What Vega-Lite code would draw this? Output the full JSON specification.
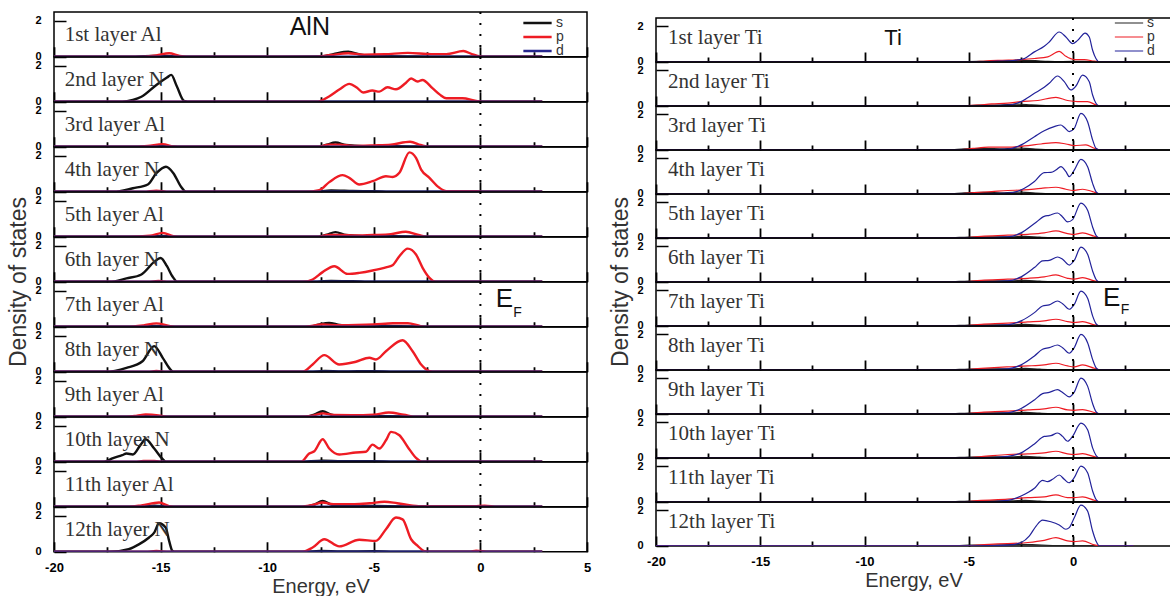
{
"$schema": "https://vega.github.io/schema/vega-lite/v6.json",
"padding": {"left": 7, "top": 10, "right": 0, "bottom": 0},
"background": "white",
"config": {"view": {"stroke": "#000", "strokeWidth": 1.5}, "font": "Liberation Sans"},
"datasets": {
"alnLab": [{"L":1,"name":"1st layer Al"},{"L":2,"name":"2nd layer N"},{"L":3,"name":"3rd layer Al"},{"L":4,"name":"4th layer N"},{"L":5,"name":"5th layer Al"},{"L":6,"name":"6th layer N"},{"L":7,"name":"7th layer Al"},{"L":8,"name":"8th layer N"},{"L":9,"name":"9th layer Al"},{"L":10,"name":"10th layer N"},{"L":11,"name":"11th layer Al"},{"L":12,"name":"12th layer N"}],
"tiLab": [{"L":1,"name":"1st layer Ti"},{"L":2,"name":"2nd layer Ti"},{"L":3,"name":"3rd layer Ti"},{"L":4,"name":"4th layer Ti"},{"L":5,"name":"5th layer Ti"},{"L":6,"name":"6th layer Ti"},{"L":7,"name":"7th layer Ti"},{"L":8,"name":"8th layer Ti"},{"L":9,"name":"9th layer Ti"},{"L":10,"name":"10th layer Ti"},{"L":11,"name":"11th layer Ti"},{"L":12,"name":"12th layer Ti"}],
"aln": [
{"L":1,"c":"s","E":-20,"v":0},{"L":1,"c":"s","E":-16.5,"v":0},{"L":1,"c":"s","E":-15,"v":0.06},{"L":1,"c":"s","E":-14,"v":0},{"L":1,"c":"s","E":-7.5,"v":0.02},{"L":1,"c":"s","E":-6.9,"v":0.15},{"L":1,"c":"s","E":-6.2,"v":0.28},{"L":1,"c":"s","E":-5.6,"v":0.12},{"L":1,"c":"s","E":-4.8,"v":0.05},{"L":1,"c":"s","E":-3,"v":0.02},{"L":1,"c":"s","E":-1,"v":0},{"L":1,"c":"s","E":2.9,"v":0},
{"L":1,"c":"p","E":-20,"v":0},{"L":1,"c":"p","E":-16,"v":0},{"L":1,"c":"p","E":-15.2,"v":0.08},{"L":1,"c":"p","E":-14.6,"v":0.2},{"L":1,"c":"p","E":-14.1,"v":0.05},{"L":1,"c":"p","E":-13.5,"v":0},{"L":1,"c":"p","E":-7.7,"v":0},{"L":1,"c":"p","E":-7,"v":0.1},{"L":1,"c":"p","E":-6.2,"v":0.2},{"L":1,"c":"p","E":-5.5,"v":0.12},{"L":1,"c":"p","E":-4.5,"v":0.14},{"L":1,"c":"p","E":-3.4,"v":0.22},{"L":1,"c":"p","E":-2.3,"v":0.15},{"L":1,"c":"p","E":-1.6,"v":0.15},{"L":1,"c":"p","E":-0.8,"v":0.32},{"L":1,"c":"p","E":-0.4,"v":0.15},{"L":1,"c":"p","E":0,"v":0.02},{"L":1,"c":"p","E":0.3,"v":0},{"L":1,"c":"p","E":2.9,"v":0},
{"L":1,"c":"d","E":-20,"v":0},{"L":1,"c":"d","E":2.9,"v":0},
{"L":2,"c":"s","E":-20,"v":0},{"L":2,"c":"s","E":-16.8,"v":0},{"L":2,"c":"s","E":-16.3,"v":0.1},{"L":2,"c":"s","E":-15.9,"v":0.28},{"L":2,"c":"s","E":-15.2,"v":0.94},{"L":2,"c":"s","E":-14.7,"v":1.35},{"L":2,"c":"s","E":-14.5,"v":1.5},{"L":2,"c":"s","E":-14.25,"v":0.9},{"L":2,"c":"s","E":-13.9,"v":0.05},{"L":2,"c":"s","E":-13.6,"v":0},{"L":2,"c":"s","E":2.9,"v":0},
{"L":2,"c":"p","E":-20,"v":0},{"L":2,"c":"p","E":-7.7,"v":0},{"L":2,"c":"p","E":-7.1,"v":0.3},{"L":2,"c":"p","E":-6.6,"v":0.7},{"L":2,"c":"p","E":-6.15,"v":1.0},{"L":2,"c":"p","E":-5.8,"v":0.8},{"L":2,"c":"p","E":-5.5,"v":0.52},{"L":2,"c":"p","E":-5.07,"v":0.63},{"L":2,"c":"p","E":-4.74,"v":0.57},{"L":2,"c":"p","E":-4.36,"v":0.81},{"L":2,"c":"p","E":-3.96,"v":0.7},{"L":2,"c":"p","E":-3.5,"v":1.05},{"L":2,"c":"p","E":-3.25,"v":1.3},{"L":2,"c":"p","E":-2.95,"v":1.13},{"L":2,"c":"p","E":-2.72,"v":1.22},{"L":2,"c":"p","E":-2.25,"v":0.76},{"L":2,"c":"p","E":-1.9,"v":0.4},{"L":2,"c":"p","E":-1.6,"v":0.2},{"L":2,"c":"p","E":-0.84,"v":0.2},{"L":2,"c":"p","E":-0.2,"v":0.05},{"L":2,"c":"p","E":0.2,"v":0},{"L":2,"c":"p","E":2.9,"v":0},
{"L":2,"c":"d","E":-20,"v":0},{"L":2,"c":"d","E":2.9,"v":0},
{"L":3,"c":"s","E":-20,"v":0},{"L":3,"c":"s","E":-16.5,"v":0},{"L":3,"c":"s","E":-15,"v":0.04},{"L":3,"c":"s","E":-14,"v":0},{"L":3,"c":"s","E":-7.6,"v":0},{"L":3,"c":"s","E":-7.2,"v":0.12},{"L":3,"c":"s","E":-6.8,"v":0.24},{"L":3,"c":"s","E":-6.3,"v":0.1},{"L":3,"c":"s","E":-5.5,"v":0.04},{"L":3,"c":"s","E":-4,"v":0.04},{"L":3,"c":"s","E":-3,"v":0.02},{"L":3,"c":"s","E":-2.5,"v":0},{"L":3,"c":"s","E":2.9,"v":0},
{"L":3,"c":"p","E":-20,"v":0},{"L":3,"c":"p","E":-16.5,"v":0},{"L":3,"c":"p","E":-15.6,"v":0.05},{"L":3,"c":"p","E":-14.9,"v":0.15},{"L":3,"c":"p","E":-14.4,"v":0.02},{"L":3,"c":"p","E":-14,"v":0},{"L":3,"c":"p","E":-7.6,"v":0},{"L":3,"c":"p","E":-7.1,"v":0.12},{"L":3,"c":"p","E":-6.6,"v":0.12},{"L":3,"c":"p","E":-6,"v":0.05},{"L":3,"c":"p","E":-5,"v":0.08},{"L":3,"c":"p","E":-4.2,"v":0.12},{"L":3,"c":"p","E":-3.3,"v":0.28},{"L":3,"c":"p","E":-2.8,"v":0.1},{"L":3,"c":"p","E":-2.4,"v":0},{"L":3,"c":"p","E":2.9,"v":0},
{"L":3,"c":"d","E":-20,"v":0},{"L":3,"c":"d","E":2.9,"v":0},
{"L":4,"c":"s","E":-20,"v":0},{"L":4,"c":"s","E":-17.2,"v":0},{"L":4,"c":"s","E":-16.3,"v":0.2},{"L":4,"c":"s","E":-15.6,"v":0.41},{"L":4,"c":"s","E":-15.2,"v":1.04},{"L":4,"c":"s","E":-14.75,"v":1.4},{"L":4,"c":"s","E":-14.4,"v":1.04},{"L":4,"c":"s","E":-14.05,"v":0.3},{"L":4,"c":"s","E":-13.8,"v":0},{"L":4,"c":"s","E":-7.8,"v":0},{"L":4,"c":"s","E":-7,"v":0.08},{"L":4,"c":"s","E":-6,"v":0.05},{"L":4,"c":"s","E":-5,"v":0.03},{"L":4,"c":"s","E":-4,"v":0},{"L":4,"c":"s","E":2.9,"v":0},
{"L":4,"c":"p","E":-20,"v":0},{"L":4,"c":"p","E":-15.8,"v":0},{"L":4,"c":"p","E":-15.2,"v":0.06},{"L":4,"c":"p","E":-14.6,"v":0},{"L":4,"c":"p","E":-8.2,"v":0},{"L":4,"c":"p","E":-7.56,"v":0.09},{"L":4,"c":"p","E":-7.09,"v":0.54},{"L":4,"c":"p","E":-6.46,"v":0.93},{"L":4,"c":"p","E":-6.15,"v":0.78},{"L":4,"c":"p","E":-5.68,"v":0.41},{"L":4,"c":"p","E":-5.06,"v":0.59},{"L":4,"c":"p","E":-4.43,"v":0.87},{"L":4,"c":"p","E":-4.12,"v":0.83},{"L":4,"c":"p","E":-3.8,"v":1.06},{"L":4,"c":"p","E":-3.33,"v":2.2},{"L":4,"c":"p","E":-3.02,"v":1.89},{"L":4,"c":"p","E":-2.78,"v":1.24},{"L":4,"c":"p","E":-2.39,"v":0.78},{"L":4,"c":"p","E":-1.92,"v":0.22},{"L":4,"c":"p","E":-1.6,"v":0.04},{"L":4,"c":"p","E":-0.2,"v":0.04},{"L":4,"c":"p","E":0.1,"v":0},{"L":4,"c":"p","E":2.9,"v":0},
{"L":4,"c":"d","E":-20,"v":0},{"L":4,"c":"d","E":2.9,"v":0},
{"L":5,"c":"s","E":-20,"v":0},{"L":5,"c":"s","E":-16.5,"v":0},{"L":5,"c":"s","E":-15,"v":0.05},{"L":5,"c":"s","E":-14,"v":0},{"L":5,"c":"s","E":-7.6,"v":0},{"L":5,"c":"s","E":-7.2,"v":0.12},{"L":5,"c":"s","E":-6.8,"v":0.26},{"L":5,"c":"s","E":-6.3,"v":0.1},{"L":5,"c":"s","E":-5.5,"v":0.04},{"L":5,"c":"s","E":-4,"v":0.04},{"L":5,"c":"s","E":-3,"v":0.02},{"L":5,"c":"s","E":-2.5,"v":0},{"L":5,"c":"s","E":2.9,"v":0},
{"L":5,"c":"p","E":-20,"v":0},{"L":5,"c":"p","E":-16.5,"v":0},{"L":5,"c":"p","E":-15.5,"v":0.06},{"L":5,"c":"p","E":-14.9,"v":0.22},{"L":5,"c":"p","E":-14.4,"v":0.04},{"L":5,"c":"p","E":-14,"v":0},{"L":5,"c":"p","E":-7.7,"v":0},{"L":5,"c":"p","E":-7.1,"v":0.1},{"L":5,"c":"p","E":-6.5,"v":0.1},{"L":5,"c":"p","E":-5.9,"v":0.07},{"L":5,"c":"p","E":-5,"v":0.1},{"L":5,"c":"p","E":-4.2,"v":0.15},{"L":5,"c":"p","E":-3.5,"v":0.28},{"L":5,"c":"p","E":-2.9,"v":0.1},{"L":5,"c":"p","E":-2.5,"v":0},{"L":5,"c":"p","E":2.9,"v":0},
{"L":5,"c":"d","E":-20,"v":0},{"L":5,"c":"d","E":2.9,"v":0},
{"L":6,"c":"s","E":-20,"v":0},{"L":6,"c":"s","E":-17.4,"v":0},{"L":6,"c":"s","E":-16.6,"v":0.19},{"L":6,"c":"s","E":-15.9,"v":0.41},{"L":6,"c":"s","E":-15.3,"v":1.11},{"L":6,"c":"s","E":-15,"v":1.33},{"L":6,"c":"s","E":-14.7,"v":0.87},{"L":6,"c":"s","E":-14.45,"v":0.31},{"L":6,"c":"s","E":-14.2,"v":0},{"L":6,"c":"s","E":-8,"v":0},{"L":6,"c":"s","E":-7,"v":0.05},{"L":6,"c":"s","E":-6,"v":0.03},{"L":6,"c":"s","E":-5,"v":0},{"L":6,"c":"s","E":2.9,"v":0},
{"L":6,"c":"p","E":-20,"v":0},{"L":6,"c":"p","E":-15.6,"v":0},{"L":6,"c":"p","E":-15.1,"v":0.05},{"L":6,"c":"p","E":-14.6,"v":0},{"L":6,"c":"p","E":-8.34,"v":0},{"L":6,"c":"p","E":-7.87,"v":0.13},{"L":6,"c":"p","E":-7.4,"v":0.54},{"L":6,"c":"p","E":-6.85,"v":0.87},{"L":6,"c":"p","E":-6.23,"v":0.44},{"L":6,"c":"p","E":-5.68,"v":0.5},{"L":6,"c":"p","E":-5.06,"v":0.63},{"L":6,"c":"p","E":-4.43,"v":0.81},{"L":6,"c":"p","E":-4.12,"v":0.93},{"L":6,"c":"p","E":-3.8,"v":1.43},{"L":6,"c":"p","E":-3.41,"v":1.85},{"L":6,"c":"p","E":-3.02,"v":1.52},{"L":6,"c":"p","E":-2.71,"v":0.78},{"L":6,"c":"p","E":-2.39,"v":0.22},{"L":6,"c":"p","E":-2.1,"v":0},{"L":6,"c":"p","E":2.9,"v":0},
{"L":6,"c":"d","E":-20,"v":0},{"L":6,"c":"d","E":2.9,"v":0},
{"L":7,"c":"s","E":-20,"v":0},{"L":7,"c":"s","E":-16.5,"v":0},{"L":7,"c":"s","E":-15.3,"v":0.05},{"L":7,"c":"s","E":-14.3,"v":0},{"L":7,"c":"s","E":-8,"v":0},{"L":7,"c":"s","E":-7.6,"v":0.12},{"L":7,"c":"s","E":-7.1,"v":0.22},{"L":7,"c":"s","E":-6.6,"v":0.1},{"L":7,"c":"s","E":-6,"v":0.05},{"L":7,"c":"s","E":-4.5,"v":0.05},{"L":7,"c":"s","E":-3,"v":0.02},{"L":7,"c":"s","E":-2.5,"v":0},{"L":7,"c":"s","E":2.9,"v":0},
{"L":7,"c":"p","E":-20,"v":0},{"L":7,"c":"p","E":-16.6,"v":0},{"L":7,"c":"p","E":-15.8,"v":0.08},{"L":7,"c":"p","E":-15.2,"v":0.19},{"L":7,"c":"p","E":-14.6,"v":0.05},{"L":7,"c":"p","E":-14.2,"v":0},{"L":7,"c":"p","E":-8.3,"v":0},{"L":7,"c":"p","E":-7.4,"v":0.13},{"L":7,"c":"p","E":-6.6,"v":0.09},{"L":7,"c":"p","E":-5.8,"v":0.1},{"L":7,"c":"p","E":-5,"v":0.13},{"L":7,"c":"p","E":-4.1,"v":0.2},{"L":7,"c":"p","E":-3.4,"v":0.2},{"L":7,"c":"p","E":-2.8,"v":0.04},{"L":7,"c":"p","E":-2.4,"v":0},{"L":7,"c":"p","E":2.9,"v":0},
{"L":7,"c":"d","E":-20,"v":0},{"L":7,"c":"d","E":2.9,"v":0},
{"L":8,"c":"s","E":-20,"v":0},{"L":8,"c":"s","E":-17.6,"v":0},{"L":8,"c":"s","E":-16.6,"v":0.22},{"L":8,"c":"s","E":-15.85,"v":0.59},{"L":8,"c":"s","E":-15.3,"v":1.43},{"L":8,"c":"s","E":-14.9,"v":0.78},{"L":8,"c":"s","E":-14.6,"v":0.22},{"L":8,"c":"s","E":-14.4,"v":0},{"L":8,"c":"s","E":-8,"v":0},{"L":8,"c":"s","E":-7.3,"v":0.05},{"L":8,"c":"s","E":-6.5,"v":0.02},{"L":8,"c":"s","E":-5,"v":0.04},{"L":8,"c":"s","E":-4,"v":0},{"L":8,"c":"s","E":2.9,"v":0},
{"L":8,"c":"p","E":-20,"v":0},{"L":8,"c":"p","E":-15.6,"v":0},{"L":8,"c":"p","E":-15.2,"v":0.05},{"L":8,"c":"p","E":-14.7,"v":0},{"L":8,"c":"p","E":-8.34,"v":0},{"L":8,"c":"p","E":-7.87,"v":0.41},{"L":8,"c":"p","E":-7.32,"v":0.93},{"L":8,"c":"p","E":-6.62,"v":0.41},{"L":8,"c":"p","E":-5.84,"v":0.56},{"L":8,"c":"p","E":-5.21,"v":0.78},{"L":8,"c":"p","E":-4.9,"v":0.69},{"L":8,"c":"p","E":-4.43,"v":1.15},{"L":8,"c":"p","E":-3.65,"v":1.76},{"L":8,"c":"p","E":-3.18,"v":1.15},{"L":8,"c":"p","E":-2.78,"v":0.41},{"L":8,"c":"p","E":-2.39,"v":0.04},{"L":8,"c":"p","E":-2.1,"v":0},{"L":8,"c":"p","E":2.9,"v":0},
{"L":8,"c":"d","E":-20,"v":0},{"L":8,"c":"d","E":2.9,"v":0},
{"L":9,"c":"s","E":-20,"v":0},{"L":9,"c":"s","E":-16.5,"v":0},{"L":9,"c":"s","E":-15.5,"v":0.05},{"L":9,"c":"s","E":-14.5,"v":0},{"L":9,"c":"s","E":-8.2,"v":0},{"L":9,"c":"s","E":-7.8,"v":0.12},{"L":9,"c":"s","E":-7.4,"v":0.31},{"L":9,"c":"s","E":-7,"v":0.12},{"L":9,"c":"s","E":-6.5,"v":0.04},{"L":9,"c":"s","E":-5,"v":0.05},{"L":9,"c":"s","E":-3.5,"v":0.02},{"L":9,"c":"s","E":-3,"v":0},{"L":9,"c":"s","E":2.9,"v":0},
{"L":9,"c":"p","E":-20,"v":0},{"L":9,"c":"p","E":-16.6,"v":0},{"L":9,"c":"p","E":-16.1,"v":0.06},{"L":9,"c":"p","E":-15.7,"v":0.13},{"L":9,"c":"p","E":-15.1,"v":0.08},{"L":9,"c":"p","E":-14.7,"v":0},{"L":9,"c":"p","E":-8.5,"v":0},{"L":9,"c":"p","E":-7.8,"v":0.08},{"L":9,"c":"p","E":-7.4,"v":0.19},{"L":9,"c":"p","E":-6.9,"v":0.1},{"L":9,"c":"p","E":-6,"v":0.09},{"L":9,"c":"p","E":-5,"v":0.12},{"L":9,"c":"p","E":-4.3,"v":0.24},{"L":9,"c":"p","E":-3.6,"v":0.12},{"L":9,"c":"p","E":-3,"v":0},{"L":9,"c":"p","E":2.9,"v":0},
{"L":9,"c":"d","E":-20,"v":0},{"L":9,"c":"d","E":2.9,"v":0},
{"L":10,"c":"s","E":-20,"v":0},{"L":10,"c":"s","E":-17.65,"v":0},{"L":10,"c":"s","E":-17.26,"v":0.19},{"L":10,"c":"s","E":-16.8,"v":0.37},{"L":10,"c":"s","E":-16.6,"v":0.46},{"L":10,"c":"s","E":-16.3,"v":0.41},{"L":10,"c":"s","E":-15.95,"v":0.93},{"L":10,"c":"s","E":-15.7,"v":1.26},{"L":10,"c":"s","E":-15.3,"v":0.74},{"L":10,"c":"s","E":-14.9,"v":0.15},{"L":10,"c":"s","E":-14.75,"v":0},{"L":10,"c":"s","E":-8.5,"v":0},{"L":10,"c":"s","E":-7.4,"v":0.06},{"L":10,"c":"s","E":-6.5,"v":0.03},{"L":10,"c":"s","E":-5,"v":0.04},{"L":10,"c":"s","E":-4,"v":0},{"L":10,"c":"s","E":2.9,"v":0},
{"L":10,"c":"p","E":-20,"v":0},{"L":10,"c":"p","E":-16.2,"v":0},{"L":10,"c":"p","E":-15.8,"v":0.05},{"L":10,"c":"p","E":-15.3,"v":0.05},{"L":10,"c":"p","E":-14.8,"v":0},{"L":10,"c":"p","E":-8.42,"v":0},{"L":10,"c":"p","E":-8.03,"v":0.46},{"L":10,"c":"p","E":-7.79,"v":0.59},{"L":10,"c":"p","E":-7.4,"v":1.26},{"L":10,"c":"p","E":-7.09,"v":0.74},{"L":10,"c":"p","E":-6.62,"v":0.41},{"L":10,"c":"p","E":-5.84,"v":0.52},{"L":10,"c":"p","E":-5.37,"v":0.56},{"L":10,"c":"p","E":-5.06,"v":0.96},{"L":10,"c":"p","E":-4.74,"v":0.74},{"L":10,"c":"p","E":-4.43,"v":1.2},{"L":10,"c":"p","E":-4.19,"v":1.67},{"L":10,"c":"p","E":-3.8,"v":1.48},{"L":10,"c":"p","E":-3.41,"v":0.83},{"L":10,"c":"p","E":-3.02,"v":0.22},{"L":10,"c":"p","E":-2.71,"v":0},{"L":10,"c":"p","E":2.9,"v":0},
{"L":10,"c":"d","E":-20,"v":0},{"L":10,"c":"d","E":2.9,"v":0},
{"L":11,"c":"s","E":-20,"v":0},{"L":11,"c":"s","E":-16.5,"v":0},{"L":11,"c":"s","E":-15.3,"v":0.06},{"L":11,"c":"s","E":-14.5,"v":0},{"L":11,"c":"s","E":-8.3,"v":0},{"L":11,"c":"s","E":-7.8,"v":0.12},{"L":11,"c":"s","E":-7.4,"v":0.33},{"L":11,"c":"s","E":-7,"v":0.12},{"L":11,"c":"s","E":-6.5,"v":0.04},{"L":11,"c":"s","E":-5,"v":0.05},{"L":11,"c":"s","E":-3.5,"v":0.02},{"L":11,"c":"s","E":-3,"v":0},{"L":11,"c":"s","E":2.9,"v":0},
{"L":11,"c":"p","E":-20,"v":0},{"L":11,"c":"p","E":-16.6,"v":0},{"L":11,"c":"p","E":-15.9,"v":0.08},{"L":11,"c":"p","E":-15.07,"v":0.24},{"L":11,"c":"p","E":-14.6,"v":0.04},{"L":11,"c":"p","E":-14.2,"v":0},{"L":11,"c":"p","E":-8.5,"v":0},{"L":11,"c":"p","E":-7.8,"v":0.12},{"L":11,"c":"p","E":-7.4,"v":0.24},{"L":11,"c":"p","E":-6.9,"v":0.15},{"L":11,"c":"p","E":-5.9,"v":0.15},{"L":11,"c":"p","E":-5.2,"v":0.2},{"L":11,"c":"p","E":-4.5,"v":0.28},{"L":11,"c":"p","E":-3.9,"v":0.2},{"L":11,"c":"p","E":-2.9,"v":0.04},{"L":11,"c":"p","E":-0.3,"v":0.03},{"L":11,"c":"p","E":0.2,"v":0.06},{"L":11,"c":"p","E":0.8,"v":0},{"L":11,"c":"p","E":2.9,"v":0},
{"L":11,"c":"d","E":-20,"v":0},{"L":11,"c":"d","E":2.9,"v":0},
{"L":12,"c":"s","E":-20,"v":0},{"L":12,"c":"s","E":-17.4,"v":0},{"L":12,"c":"s","E":-16.5,"v":0.15},{"L":12,"c":"s","E":-16,"v":0.43},{"L":12,"c":"s","E":-15.54,"v":0.8},{"L":12,"c":"s","E":-15.3,"v":1.07},{"L":12,"c":"s","E":-15.07,"v":1.59},{"L":12,"c":"s","E":-14.76,"v":1.35},{"L":12,"c":"s","E":-14.6,"v":0.61},{"L":12,"c":"s","E":-14.45,"v":0.06},{"L":12,"c":"s","E":-14.3,"v":0},{"L":12,"c":"s","E":-8.3,"v":0},{"L":12,"c":"s","E":-7.5,"v":0.05},{"L":12,"c":"s","E":-6.5,"v":0.02},{"L":12,"c":"s","E":-5,"v":0.03},{"L":12,"c":"s","E":-4,"v":0},{"L":12,"c":"s","E":2.9,"v":0},
{"L":12,"c":"p","E":-20,"v":0},{"L":12,"c":"p","E":-15.7,"v":0},{"L":12,"c":"p","E":-15.2,"v":0.05},{"L":12,"c":"p","E":-14.6,"v":0},{"L":12,"c":"p","E":-8.34,"v":0},{"L":12,"c":"p","E":-7.87,"v":0.24},{"L":12,"c":"p","E":-7.32,"v":0.7},{"L":12,"c":"p","E":-6.62,"v":0.3},{"L":12,"c":"p","E":-5.68,"v":0.67},{"L":12,"c":"p","E":-4.9,"v":0.61},{"L":12,"c":"p","E":-4.43,"v":1.26},{"L":12,"c":"p","E":-3.96,"v":1.91},{"L":12,"c":"p","E":-3.65,"v":1.81},{"L":12,"c":"p","E":-3.25,"v":0.7},{"L":12,"c":"p","E":-2.94,"v":0.33},{"L":12,"c":"p","E":-2.63,"v":0.04},{"L":12,"c":"p","E":-2.3,"v":0},{"L":12,"c":"p","E":-0.5,"v":0},{"L":12,"c":"p","E":-0.2,"v":0.06},{"L":12,"c":"p","E":0.4,"v":0},{"L":12,"c":"p","E":2.9,"v":0},
{"L":12,"c":"d","E":-20,"v":0},{"L":12,"c":"d","E":2.9,"v":0}
],
"ti": [
{"L":1,"c":"s","E":-20,"v":0},{"L":1,"c":"s","E":-6,"v":0},{"L":1,"c":"s","E":-4.5,"v":0.03},{"L":1,"c":"s","E":-3.5,"v":0.05},{"L":1,"c":"s","E":-2.5,"v":0.09},{"L":1,"c":"s","E":-1.8,"v":0.07},{"L":1,"c":"s","E":-1.2,"v":0.03},{"L":1,"c":"s","E":-0.5,"v":0.02},{"L":1,"c":"s","E":0.5,"v":0.03},{"L":1,"c":"s","E":1.2,"v":0},{"L":1,"c":"s","E":2.9,"v":0},
{"L":1,"c":"p","E":-20,"v":0},{"L":1,"c":"p","E":-5.05,"v":0},{"L":1,"c":"p","E":-4.2,"v":0.05},{"L":1,"c":"p","E":-3.6,"v":0.09},{"L":1,"c":"p","E":-2.49,"v":0.13},{"L":1,"c":"p","E":-1.85,"v":0.19},{"L":1,"c":"p","E":-1.21,"v":0.28},{"L":1,"c":"p","E":-0.66,"v":0.59},{"L":1,"c":"p","E":-0.34,"v":0.31},{"L":1,"c":"p","E":0.06,"v":0.13},{"L":1,"c":"p","E":0.54,"v":0.13},{"L":1,"c":"p","E":1.02,"v":0.04},{"L":1,"c":"p","E":1.3,"v":0},{"L":1,"c":"p","E":2.9,"v":0},
{"L":1,"c":"d","E":-20,"v":0},{"L":1,"c":"d","E":-4.4,"v":0},{"L":1,"c":"d","E":-3.6,"v":0.04},{"L":1,"c":"d","E":-2.8,"v":0.09},{"L":1,"c":"d","E":-2.33,"v":0.19},{"L":1,"c":"d","E":-1.85,"v":0.56},{"L":1,"c":"d","E":-1.38,"v":0.87},{"L":1,"c":"d","E":-1.14,"v":1.11},{"L":1,"c":"d","E":-0.66,"v":1.67},{"L":1,"c":"d","E":-0.34,"v":1.39},{"L":1,"c":"d","E":-0.02,"v":1.02},{"L":1,"c":"d","E":0.22,"v":1.2},{"L":1,"c":"d","E":0.58,"v":1.61},{"L":1,"c":"d","E":0.78,"v":1.39},{"L":1,"c":"d","E":0.94,"v":0.65},{"L":1,"c":"d","E":1.1,"v":0.19},{"L":1,"c":"d","E":1.26,"v":0},{"L":1,"c":"d","E":2.9,"v":0},
{"L":2,"c":"s","E":-20,"v":0},{"L":2,"c":"s","E":-5.5,"v":0},{"L":2,"c":"s","E":-4.5,"v":0.04},{"L":2,"c":"s","E":-3.5,"v":0.05},{"L":2,"c":"s","E":-2.7,"v":0.1},{"L":2,"c":"s","E":-2,"v":0.06},{"L":2,"c":"s","E":-1.2,"v":0.02},{"L":2,"c":"s","E":0.5,"v":0.02},{"L":2,"c":"s","E":1.2,"v":0},{"L":2,"c":"s","E":2.9,"v":0},
{"L":2,"c":"p","E":-20,"v":0},{"L":2,"c":"p","E":-5.37,"v":0},{"L":2,"c":"p","E":-4.6,"v":0.04},{"L":2,"c":"p","E":-3.9,"v":0.11},{"L":2,"c":"p","E":-3.13,"v":0.15},{"L":2,"c":"p","E":-2.49,"v":0.24},{"L":2,"c":"p","E":-1.69,"v":0.3},{"L":2,"c":"p","E":-0.82,"v":0.48},{"L":2,"c":"p","E":-0.26,"v":0.3},{"L":2,"c":"p","E":0.22,"v":0.24},{"L":2,"c":"p","E":0.7,"v":0.24},{"L":2,"c":"p","E":1.1,"v":0.06},{"L":2,"c":"p","E":1.3,"v":0},{"L":2,"c":"p","E":2.9,"v":0},
{"L":2,"c":"d","E":-20,"v":0},{"L":2,"c":"d","E":-4.4,"v":0},{"L":2,"c":"d","E":-3.13,"v":0.04},{"L":2,"c":"d","E":-2.49,"v":0.24},{"L":2,"c":"d","E":-1.85,"v":0.7},{"L":2,"c":"d","E":-1.38,"v":1.04},{"L":2,"c":"d","E":-1.14,"v":1.26},{"L":2,"c":"d","E":-0.74,"v":1.67},{"L":2,"c":"d","E":-0.42,"v":1.35},{"L":2,"c":"d","E":-0.1,"v":0.89},{"L":2,"c":"d","E":0.14,"v":1.11},{"L":2,"c":"d","E":0.46,"v":1.72},{"L":2,"c":"d","E":0.78,"v":1.35},{"L":2,"c":"d","E":0.94,"v":0.61},{"L":2,"c":"d","E":1.1,"v":0.15},{"L":2,"c":"d","E":1.26,"v":0},{"L":2,"c":"d","E":2.9,"v":0},
{"L":3,"c":"s","E":-20,"v":0},{"L":3,"c":"s","E":-6,"v":0},{"L":3,"c":"s","E":-5.2,"v":0.06},{"L":3,"c":"s","E":-4.3,"v":0.08},{"L":3,"c":"s","E":-3.3,"v":0.06},{"L":3,"c":"s","E":-2.5,"v":0.1},{"L":3,"c":"s","E":-1.8,"v":0.05},{"L":3,"c":"s","E":-1,"v":0.02},{"L":3,"c":"s","E":0.5,"v":0.02},{"L":3,"c":"s","E":1.2,"v":0},{"L":3,"c":"s","E":2.9,"v":0},
{"L":3,"c":"p","E":-20,"v":0},{"L":3,"c":"p","E":-5.53,"v":0},{"L":3,"c":"p","E":-4.8,"v":0.08},{"L":3,"c":"p","E":-4.06,"v":0.15},{"L":3,"c":"p","E":-3.13,"v":0.15},{"L":3,"c":"p","E":-2.33,"v":0.22},{"L":3,"c":"p","E":-1.53,"v":0.33},{"L":3,"c":"p","E":-0.82,"v":0.41},{"L":3,"c":"p","E":-0.34,"v":0.33},{"L":3,"c":"p","E":0.06,"v":0.24},{"L":3,"c":"p","E":0.62,"v":0.28},{"L":3,"c":"p","E":1.02,"v":0.09},{"L":3,"c":"p","E":1.3,"v":0},{"L":3,"c":"p","E":2.9,"v":0},
{"L":3,"c":"d","E":-20,"v":0},{"L":3,"c":"d","E":-4.4,"v":0},{"L":3,"c":"d","E":-3.13,"v":0.04},{"L":3,"c":"d","E":-2.49,"v":0.28},{"L":3,"c":"d","E":-1.85,"v":0.74},{"L":3,"c":"d","E":-1.38,"v":1.07},{"L":3,"c":"d","E":-0.9,"v":1.3},{"L":3,"c":"d","E":-0.58,"v":1.39},{"L":3,"c":"d","E":-0.42,"v":1.26},{"L":3,"c":"d","E":-0.18,"v":1.02},{"L":3,"c":"d","E":0.06,"v":1.2},{"L":3,"c":"d","E":0.38,"v":2.04},{"L":3,"c":"d","E":0.7,"v":1.57},{"L":3,"c":"d","E":0.94,"v":0.56},{"L":3,"c":"d","E":1.1,"v":0.09},{"L":3,"c":"d","E":1.26,"v":0},{"L":3,"c":"d","E":2.9,"v":0},
{"L":4,"c":"s","E":-20,"v":0},{"L":4,"c":"s","E":-6,"v":0},{"L":4,"c":"s","E":-5.2,"v":0.06},{"L":4,"c":"s","E":-4.3,"v":0.08},{"L":4,"c":"s","E":-3.3,"v":0.06},{"L":4,"c":"s","E":-2.5,"v":0.1},{"L":4,"c":"s","E":-1.8,"v":0.05},{"L":4,"c":"s","E":-1,"v":0.02},{"L":4,"c":"s","E":0.5,"v":0.02},{"L":4,"c":"s","E":1.2,"v":0},{"L":4,"c":"s","E":2.9,"v":0},
{"L":4,"c":"p","E":-20,"v":0},{"L":4,"c":"p","E":-5.5,"v":0},{"L":4,"c":"p","E":-4.74,"v":0.07},{"L":4,"c":"p","E":-3.9,"v":0.13},{"L":4,"c":"p","E":-3.13,"v":0.19},{"L":4,"c":"p","E":-2.33,"v":0.22},{"L":4,"c":"p","E":-1.53,"v":0.31},{"L":4,"c":"p","E":-0.82,"v":0.37},{"L":4,"c":"p","E":-0.34,"v":0.26},{"L":4,"c":"p","E":-0.02,"v":0.19},{"L":4,"c":"p","E":0.46,"v":0.26},{"L":4,"c":"p","E":0.94,"v":0.13},{"L":4,"c":"p","E":1.3,"v":0},{"L":4,"c":"p","E":2.9,"v":0},
{"L":4,"c":"d","E":-20,"v":0},{"L":4,"c":"d","E":-4.4,"v":0},{"L":4,"c":"d","E":-3.13,"v":0.04},{"L":4,"c":"d","E":-2.33,"v":0.31},{"L":4,"c":"d","E":-1.85,"v":0.69},{"L":4,"c":"d","E":-1.38,"v":1.19},{"L":4,"c":"d","E":-1.06,"v":1.2},{"L":4,"c":"d","E":-0.82,"v":1.33},{"L":4,"c":"d","E":-0.58,"v":1.52},{"L":4,"c":"d","E":-0.34,"v":1.24},{"L":4,"c":"d","E":-0.18,"v":0.96},{"L":4,"c":"d","E":0.06,"v":1.33},{"L":4,"c":"d","E":0.38,"v":1.93},{"L":4,"c":"d","E":0.7,"v":1.52},{"L":4,"c":"d","E":0.94,"v":0.59},{"L":4,"c":"d","E":1.1,"v":0.13},{"L":4,"c":"d","E":1.26,"v":0},{"L":4,"c":"d","E":2.9,"v":0},
{"L":5,"c":"s","E":-20,"v":0},{"L":5,"c":"s","E":-6,"v":0},{"L":5,"c":"s","E":-5,"v":0.05},{"L":5,"c":"s","E":-4,"v":0.06},{"L":5,"c":"s","E":-3,"v":0.06},{"L":5,"c":"s","E":-2.3,"v":0.08},{"L":5,"c":"s","E":-1.6,"v":0.04},{"L":5,"c":"s","E":-1,"v":0.02},{"L":5,"c":"s","E":0.5,"v":0.02},{"L":5,"c":"s","E":1.2,"v":0},{"L":5,"c":"s","E":2.9,"v":0},
{"L":5,"c":"p","E":-20,"v":0},{"L":5,"c":"p","E":-5.5,"v":0},{"L":5,"c":"p","E":-4.4,"v":0.09},{"L":5,"c":"p","E":-3.13,"v":0.15},{"L":5,"c":"p","E":-2.17,"v":0.2},{"L":5,"c":"p","E":-1.38,"v":0.28},{"L":5,"c":"p","E":-0.82,"v":0.39},{"L":5,"c":"p","E":-0.26,"v":0.24},{"L":5,"c":"p","E":0.06,"v":0.19},{"L":5,"c":"p","E":0.46,"v":0.28},{"L":5,"c":"p","E":1.02,"v":0.09},{"L":5,"c":"p","E":1.3,"v":0},{"L":5,"c":"p","E":2.9,"v":0},
{"L":5,"c":"d","E":-20,"v":0},{"L":5,"c":"d","E":-4.4,"v":0},{"L":5,"c":"d","E":-3.13,"v":0.06},{"L":5,"c":"d","E":-2.49,"v":0.28},{"L":5,"c":"d","E":-1.85,"v":0.8},{"L":5,"c":"d","E":-1.38,"v":1.2},{"L":5,"c":"d","E":-1.14,"v":1.26},{"L":5,"c":"d","E":-0.74,"v":1.39},{"L":5,"c":"d","E":-0.5,"v":1.17},{"L":5,"c":"d","E":-0.26,"v":0.89},{"L":5,"c":"d","E":-0.02,"v":1.02},{"L":5,"c":"d","E":0.38,"v":1.94},{"L":5,"c":"d","E":0.7,"v":1.54},{"L":5,"c":"d","E":0.94,"v":0.61},{"L":5,"c":"d","E":1.1,"v":0.15},{"L":5,"c":"d","E":1.26,"v":0},{"L":5,"c":"d","E":2.9,"v":0},
{"L":6,"c":"s","E":-20,"v":0},{"L":6,"c":"s","E":-6,"v":0},{"L":6,"c":"s","E":-5,"v":0.05},{"L":6,"c":"s","E":-4,"v":0.06},{"L":6,"c":"s","E":-3,"v":0.06},{"L":6,"c":"s","E":-2.3,"v":0.08},{"L":6,"c":"s","E":-1.6,"v":0.04},{"L":6,"c":"s","E":-1,"v":0.02},{"L":6,"c":"s","E":0.5,"v":0.02},{"L":6,"c":"s","E":1.2,"v":0},{"L":6,"c":"s","E":2.9,"v":0},
{"L":6,"c":"p","E":-20,"v":0},{"L":6,"c":"p","E":-5.5,"v":0},{"L":6,"c":"p","E":-4.4,"v":0.09},{"L":6,"c":"p","E":-3.13,"v":0.15},{"L":6,"c":"p","E":-2.17,"v":0.2},{"L":6,"c":"p","E":-1.38,"v":0.28},{"L":6,"c":"p","E":-0.82,"v":0.39},{"L":6,"c":"p","E":-0.26,"v":0.2},{"L":6,"c":"p","E":0.06,"v":0.15},{"L":6,"c":"p","E":0.46,"v":0.24},{"L":6,"c":"p","E":1.02,"v":0.06},{"L":6,"c":"p","E":1.3,"v":0},{"L":6,"c":"p","E":2.9,"v":0},
{"L":6,"c":"d","E":-20,"v":0},{"L":6,"c":"d","E":-4.4,"v":0},{"L":6,"c":"d","E":-3.13,"v":0.06},{"L":6,"c":"d","E":-2.49,"v":0.28},{"L":6,"c":"d","E":-1.85,"v":0.8},{"L":6,"c":"d","E":-1.46,"v":1.17},{"L":6,"c":"d","E":-1.14,"v":1.2},{"L":6,"c":"d","E":-0.74,"v":1.39},{"L":6,"c":"d","E":-0.5,"v":1.26},{"L":6,"c":"d","E":-0.18,"v":0.94},{"L":6,"c":"d","E":0.06,"v":1.2},{"L":6,"c":"d","E":0.38,"v":1.94},{"L":6,"c":"d","E":0.7,"v":1.54},{"L":6,"c":"d","E":0.94,"v":0.61},{"L":6,"c":"d","E":1.1,"v":0.15},{"L":6,"c":"d","E":1.26,"v":0},{"L":6,"c":"d","E":2.9,"v":0},
{"L":7,"c":"s","E":-20,"v":0},{"L":7,"c":"s","E":-6,"v":0},{"L":7,"c":"s","E":-5,"v":0.05},{"L":7,"c":"s","E":-4,"v":0.06},{"L":7,"c":"s","E":-3,"v":0.06},{"L":7,"c":"s","E":-2.3,"v":0.08},{"L":7,"c":"s","E":-1.6,"v":0.04},{"L":7,"c":"s","E":-1,"v":0.02},{"L":7,"c":"s","E":0.5,"v":0.02},{"L":7,"c":"s","E":1.2,"v":0},{"L":7,"c":"s","E":2.9,"v":0},
{"L":7,"c":"p","E":-20,"v":0},{"L":7,"c":"p","E":-5.5,"v":0},{"L":7,"c":"p","E":-4.4,"v":0.09},{"L":7,"c":"p","E":-3.13,"v":0.15},{"L":7,"c":"p","E":-2.17,"v":0.22},{"L":7,"c":"p","E":-1.38,"v":0.28},{"L":7,"c":"p","E":-0.82,"v":0.37},{"L":7,"c":"p","E":-0.26,"v":0.24},{"L":7,"c":"p","E":0.06,"v":0.19},{"L":7,"c":"p","E":0.46,"v":0.24},{"L":7,"c":"p","E":1.02,"v":0.06},{"L":7,"c":"p","E":1.3,"v":0},{"L":7,"c":"p","E":2.9,"v":0},
{"L":7,"c":"d","E":-20,"v":0},{"L":7,"c":"d","E":-4.4,"v":0},{"L":7,"c":"d","E":-3.13,"v":0.06},{"L":7,"c":"d","E":-2.49,"v":0.28},{"L":7,"c":"d","E":-1.85,"v":0.74},{"L":7,"c":"d","E":-1.46,"v":1.11},{"L":7,"c":"d","E":-1.14,"v":1.17},{"L":7,"c":"d","E":-0.74,"v":1.39},{"L":7,"c":"d","E":-0.5,"v":1.24},{"L":7,"c":"d","E":-0.18,"v":0.93},{"L":7,"c":"d","E":0.06,"v":1.2},{"L":7,"c":"d","E":0.38,"v":1.94},{"L":7,"c":"d","E":0.7,"v":1.54},{"L":7,"c":"d","E":0.94,"v":0.56},{"L":7,"c":"d","E":1.1,"v":0.13},{"L":7,"c":"d","E":1.26,"v":0},{"L":7,"c":"d","E":2.9,"v":0},
{"L":8,"c":"s","E":-20,"v":0},{"L":8,"c":"s","E":-6,"v":0},{"L":8,"c":"s","E":-5,"v":0.05},{"L":8,"c":"s","E":-4,"v":0.06},{"L":8,"c":"s","E":-3,"v":0.06},{"L":8,"c":"s","E":-2.3,"v":0.08},{"L":8,"c":"s","E":-1.6,"v":0.04},{"L":8,"c":"s","E":-1,"v":0.02},{"L":8,"c":"s","E":0.5,"v":0.02},{"L":8,"c":"s","E":1.2,"v":0},{"L":8,"c":"s","E":2.9,"v":0},
{"L":8,"c":"p","E":-20,"v":0},{"L":8,"c":"p","E":-5.5,"v":0},{"L":8,"c":"p","E":-4.4,"v":0.09},{"L":8,"c":"p","E":-3.13,"v":0.17},{"L":8,"c":"p","E":-2.17,"v":0.22},{"L":8,"c":"p","E":-1.38,"v":0.28},{"L":8,"c":"p","E":-0.82,"v":0.37},{"L":8,"c":"p","E":-0.26,"v":0.22},{"L":8,"c":"p","E":0.06,"v":0.17},{"L":8,"c":"p","E":0.46,"v":0.28},{"L":8,"c":"p","E":1.02,"v":0.09},{"L":8,"c":"p","E":1.3,"v":0},{"L":8,"c":"p","E":2.9,"v":0},
{"L":8,"c":"d","E":-20,"v":0},{"L":8,"c":"d","E":-4.4,"v":0},{"L":8,"c":"d","E":-3.13,"v":0.06},{"L":8,"c":"d","E":-2.49,"v":0.28},{"L":8,"c":"d","E":-1.85,"v":0.78},{"L":8,"c":"d","E":-1.46,"v":1.15},{"L":8,"c":"d","E":-1.14,"v":1.24},{"L":8,"c":"d","E":-0.74,"v":1.39},{"L":8,"c":"d","E":-0.5,"v":1.24},{"L":8,"c":"d","E":-0.18,"v":0.93},{"L":8,"c":"d","E":0.06,"v":1.24},{"L":8,"c":"d","E":0.38,"v":1.98},{"L":8,"c":"d","E":0.7,"v":1.52},{"L":8,"c":"d","E":0.94,"v":0.59},{"L":8,"c":"d","E":1.1,"v":0.13},{"L":8,"c":"d","E":1.26,"v":0},{"L":8,"c":"d","E":2.9,"v":0},
{"L":9,"c":"s","E":-20,"v":0},{"L":9,"c":"s","E":-6,"v":0},{"L":9,"c":"s","E":-5,"v":0.05},{"L":9,"c":"s","E":-4,"v":0.06},{"L":9,"c":"s","E":-3,"v":0.06},{"L":9,"c":"s","E":-2.3,"v":0.08},{"L":9,"c":"s","E":-1.6,"v":0.04},{"L":9,"c":"s","E":-1,"v":0.02},{"L":9,"c":"s","E":0.5,"v":0.02},{"L":9,"c":"s","E":1.2,"v":0},{"L":9,"c":"s","E":2.9,"v":0},
{"L":9,"c":"p","E":-20,"v":0},{"L":9,"c":"p","E":-5.5,"v":0},{"L":9,"c":"p","E":-4.4,"v":0.09},{"L":9,"c":"p","E":-3.13,"v":0.15},{"L":9,"c":"p","E":-2.17,"v":0.22},{"L":9,"c":"p","E":-1.38,"v":0.28},{"L":9,"c":"p","E":-0.82,"v":0.37},{"L":9,"c":"p","E":-0.26,"v":0.22},{"L":9,"c":"p","E":0.06,"v":0.2},{"L":9,"c":"p","E":0.46,"v":0.24},{"L":9,"c":"p","E":1.02,"v":0.08},{"L":9,"c":"p","E":1.3,"v":0},{"L":9,"c":"p","E":2.9,"v":0},
{"L":9,"c":"d","E":-20,"v":0},{"L":9,"c":"d","E":-4.4,"v":0},{"L":9,"c":"d","E":-3.13,"v":0.06},{"L":9,"c":"d","E":-2.49,"v":0.3},{"L":9,"c":"d","E":-1.85,"v":0.78},{"L":9,"c":"d","E":-1.46,"v":1.13},{"L":9,"c":"d","E":-1.14,"v":1.2},{"L":9,"c":"d","E":-0.74,"v":1.35},{"L":9,"c":"d","E":-0.5,"v":1.2},{"L":9,"c":"d","E":-0.18,"v":0.95},{"L":9,"c":"d","E":0.06,"v":1.22},{"L":9,"c":"d","E":0.38,"v":2.0},{"L":9,"c":"d","E":0.7,"v":1.55},{"L":9,"c":"d","E":0.94,"v":0.58},{"L":9,"c":"d","E":1.1,"v":0.13},{"L":9,"c":"d","E":1.26,"v":0},{"L":9,"c":"d","E":2.9,"v":0},
{"L":10,"c":"s","E":-20,"v":0},{"L":10,"c":"s","E":-6,"v":0},{"L":10,"c":"s","E":-5,"v":0.05},{"L":10,"c":"s","E":-4,"v":0.06},{"L":10,"c":"s","E":-3,"v":0.06},{"L":10,"c":"s","E":-2.3,"v":0.08},{"L":10,"c":"s","E":-1.6,"v":0.04},{"L":10,"c":"s","E":-1,"v":0.02},{"L":10,"c":"s","E":0.5,"v":0.02},{"L":10,"c":"s","E":1.2,"v":0},{"L":10,"c":"s","E":2.9,"v":0},
{"L":10,"c":"p","E":-20,"v":0},{"L":10,"c":"p","E":-5.5,"v":0},{"L":10,"c":"p","E":-4.4,"v":0.07},{"L":10,"c":"p","E":-3.13,"v":0.19},{"L":10,"c":"p","E":-2.17,"v":0.22},{"L":10,"c":"p","E":-1.38,"v":0.28},{"L":10,"c":"p","E":-0.82,"v":0.37},{"L":10,"c":"p","E":-0.26,"v":0.22},{"L":10,"c":"p","E":0.06,"v":0.19},{"L":10,"c":"p","E":0.46,"v":0.24},{"L":10,"c":"p","E":1.02,"v":0.07},{"L":10,"c":"p","E":1.3,"v":0},{"L":10,"c":"p","E":2.9,"v":0},
{"L":10,"c":"d","E":-20,"v":0},{"L":10,"c":"d","E":-4.4,"v":0},{"L":10,"c":"d","E":-3.13,"v":0.09},{"L":10,"c":"d","E":-2.49,"v":0.28},{"L":10,"c":"d","E":-1.85,"v":0.78},{"L":10,"c":"d","E":-1.38,"v":1.2},{"L":10,"c":"d","E":-1.06,"v":1.24},{"L":10,"c":"d","E":-0.74,"v":1.39},{"L":10,"c":"d","E":-0.5,"v":1.2},{"L":10,"c":"d","E":-0.26,"v":0.93},{"L":10,"c":"d","E":-0.02,"v":1.2},{"L":10,"c":"d","E":0.38,"v":1.94},{"L":10,"c":"d","E":0.7,"v":1.57},{"L":10,"c":"d","E":0.94,"v":0.56},{"L":10,"c":"d","E":1.1,"v":0.15},{"L":10,"c":"d","E":1.26,"v":0},{"L":10,"c":"d","E":2.9,"v":0},
{"L":11,"c":"s","E":-20,"v":0},{"L":11,"c":"s","E":-6,"v":0},{"L":11,"c":"s","E":-5,"v":0.05},{"L":11,"c":"s","E":-4,"v":0.06},{"L":11,"c":"s","E":-3,"v":0.06},{"L":11,"c":"s","E":-2.3,"v":0.08},{"L":11,"c":"s","E":-1.6,"v":0.04},{"L":11,"c":"s","E":-1,"v":0.02},{"L":11,"c":"s","E":0.5,"v":0.02},{"L":11,"c":"s","E":1.2,"v":0},{"L":11,"c":"s","E":2.9,"v":0},
{"L":11,"c":"p","E":-20,"v":0},{"L":11,"c":"p","E":-5.5,"v":0},{"L":11,"c":"p","E":-4.4,"v":0.09},{"L":11,"c":"p","E":-3.13,"v":0.15},{"L":11,"c":"p","E":-2.17,"v":0.24},{"L":11,"c":"p","E":-1.38,"v":0.28},{"L":11,"c":"p","E":-0.82,"v":0.39},{"L":11,"c":"p","E":-0.26,"v":0.24},{"L":11,"c":"p","E":0.06,"v":0.24},{"L":11,"c":"p","E":0.46,"v":0.28},{"L":11,"c":"p","E":1.02,"v":0.09},{"L":11,"c":"p","E":1.3,"v":0},{"L":11,"c":"p","E":2.9,"v":0},
{"L":11,"c":"d","E":-20,"v":0},{"L":11,"c":"d","E":-4.4,"v":0},{"L":11,"c":"d","E":-3.13,"v":0.09},{"L":11,"c":"d","E":-2.49,"v":0.33},{"L":11,"c":"d","E":-1.85,"v":0.76},{"L":11,"c":"d","E":-1.46,"v":1.2},{"L":11,"c":"d","E":-1.22,"v":1.13},{"L":11,"c":"d","E":-0.98,"v":1.26},{"L":11,"c":"d","E":-0.66,"v":1.5},{"L":11,"c":"d","E":-0.42,"v":1.26},{"L":11,"c":"d","E":-0.2,"v":1.07},{"L":11,"c":"d","E":0.06,"v":1.35},{"L":11,"c":"d","E":0.38,"v":2.0},{"L":11,"c":"d","E":0.7,"v":1.63},{"L":11,"c":"d","E":0.94,"v":0.61},{"L":11,"c":"d","E":1.1,"v":0.15},{"L":11,"c":"d","E":1.26,"v":0},{"L":11,"c":"d","E":2.9,"v":0},
{"L":12,"c":"s","E":-20,"v":0},{"L":12,"c":"s","E":-6,"v":0},{"L":12,"c":"s","E":-5,"v":0.04},{"L":12,"c":"s","E":-4,"v":0.05},{"L":12,"c":"s","E":-3,"v":0.07},{"L":12,"c":"s","E":-2.5,"v":0.08},{"L":12,"c":"s","E":-1.5,"v":0.05},{"L":12,"c":"s","E":-0.8,"v":0.02},{"L":12,"c":"s","E":0.5,"v":0.02},{"L":12,"c":"s","E":1.2,"v":0},{"L":12,"c":"s","E":2.9,"v":0},
{"L":12,"c":"p","E":-20,"v":0},{"L":12,"c":"p","E":-5.5,"v":0},{"L":12,"c":"p","E":-4.02,"v":0.09},{"L":12,"c":"p","E":-3.13,"v":0.13},{"L":12,"c":"p","E":-2.17,"v":0.19},{"L":12,"c":"p","E":-1.38,"v":0.31},{"L":12,"c":"p","E":-0.82,"v":0.46},{"L":12,"c":"p","E":-0.26,"v":0.28},{"L":12,"c":"p","E":0.06,"v":0.24},{"L":12,"c":"p","E":0.46,"v":0.28},{"L":12,"c":"p","E":1.02,"v":0.06},{"L":12,"c":"p","E":1.3,"v":0},{"L":12,"c":"p","E":2.9,"v":0},
{"L":12,"c":"d","E":-20,"v":0},{"L":12,"c":"d","E":-4.4,"v":0},{"L":12,"c":"d","E":-3.13,"v":0.04},{"L":12,"c":"d","E":-2.49,"v":0.19},{"L":12,"c":"d","E":-2.09,"v":0.56},{"L":12,"c":"d","E":-1.77,"v":1.11},{"L":12,"c":"d","E":-1.46,"v":1.44},{"L":12,"c":"d","E":-1.06,"v":1.35},{"L":12,"c":"d","E":-0.66,"v":1.17},{"L":12,"c":"d","E":-0.34,"v":0.93},{"L":12,"c":"d","E":-0.18,"v":1.02},{"L":12,"c":"d","E":0.06,"v":1.57},{"L":12,"c":"d","E":0.38,"v":2.28},{"L":12,"c":"d","E":0.7,"v":1.94},{"L":12,"c":"d","E":0.94,"v":0.83},{"L":12,"c":"d","E":1.1,"v":0.28},{"L":12,"c":"d","E":1.26,"v":0},{"L":12,"c":"d","E":2.9,"v":0}
]
},
"spacing": 18,
"center": true,
"resolve": {"scale": {"x": "independent", "y": "independent", "color": "independent"}, "legend": {"color": "independent"}},
"hconcat": [
{
"data": {"name": "aln"},
"transform": [{"lookup": "L", "from": {"data": {"name": "alnLab"}, "key": "L", "fields": ["name"]}}],
"bounds": "flush",
"spacing": {"row": 0},
"facet": {"row": {"field": "L", "type": "ordinal", "title": "Density of states", "header": {"labels": false, "titleFont": "Liberation Sans", "titleFontSize": 23, "titleFontWeight": "normal", "titleColor": "#333", "titlePadding": -7}}},
"spec": {
"width": 533, "height": 44.8,
"layer": [
{"mark": {"type": "line", "interpolate": "monotone", "strokeWidth": 2.4, "clip": true},
"encoding": {
"x": {"field": "E", "type": "quantitative", "scale": {"domain": [-20, 5], "nice": false, "zero": false},
"axis": {"values": [-20,-17.5,-15,-12.5,-10,-7.5,-5,-2.5,0,2.5,5], "labelExpr": "datum.value % 5 == 0 ? '' + datum.value : ''", "labelFlush": false, "labelOverlap": false, "ticks": false, "domain": false, "grid": true, "gridColor": "#000", "gridOpacity": 1, "gridWidth": 1.8, "gridDash": {"condition": {"test": "datum.value % 5 == 0", "value": [0, 34.8, 10, 2000]}, "value": [0, 39.8, 5, 2000]}, "labelFont": "Liberation Sans", "labelFontWeight": "bold", "labelFontSize": 13, "labelColor": "#000", "labelPadding": 9, "title": "Energy, eV", "titleFont": "Liberation Sans", "titleFontSize": 20, "titleFontWeight": "normal", "titleColor": "#333", "titlePadding": 2}},
"y": {"field": "v", "type": "quantitative", "scale": {"domain": [0, 2.5], "nice": false},
"axis": {"values": [0, 1, 2], "labelExpr": "datum.value == 1 ? '' : datum.label", "ticks": false, "domain": false, "minExtent": 0, "grid": true, "gridColor": "#000", "gridOpacity": 1, "gridWidth": 1.5, "gridDash": {"condition": {"test": "datum.value == 1", "value": [6, 2000]}, "value": [12, 2000]}, "labelFont": "Liberation Sans", "labelFontWeight": "bold", "labelFontSize": 11, "labelColor": "#000", "labelPadding": 13, "title": null}},
"color": {"field": "c", "type": "nominal", "scale": {"domain": ["s", "p", "d"], "range": ["#111111", "#ee1c24", "#27278f"]},
"legend": {"orient": "none", "legendX": 468, "legendY": 5, "title": null, "symbolType": "stroke", "symbolSize": 800, "symbolStrokeWidth": 2.4, "labelFont": "Liberation Sans", "labelFontSize": 14, "labelColor": "#333", "labelOffset": 3, "clipHeight": 12, "rowPadding": 0, "padding": 0}}
}},
{"transform": [{"filter": "datum.c == 'd' && datum.E == -20"}],
"mark": {"type": "rule", "strokeDash": [2, 9], "strokeWidth": 2, "color": "#000"},
"encoding": {"x": {"datum": 0}}},
{"transform": [{"filter": "datum.c == 'd' && datum.E == -20"}],
"mark": {"type": "text", "align": "left", "baseline": "middle", "font": "Liberation Serif", "fontSize": 21, "color": "#333"},
"encoding": {"x": {"datum": -19.5}, "y": {"datum": 1.22}, "text": {"field": "name"}}},
{"transform": [{"filter": "datum.L == 1 && datum.c == 'd' && datum.E == -20"}],
"mark": {"type": "text", "align": "center", "baseline": "middle", "font": "Liberation Sans", "fontSize": 25, "color": "#111"},
"encoding": {"x": {"datum": -8}, "y": {"datum": 1.67}, "text": {"value": "AlN"}}},
{"transform": [{"filter": "datum.L == 7 && datum.c == 'd' && datum.E == -20"}],
"mark": {"type": "text", "align": "center", "baseline": "middle", "font": "Liberation Sans", "fontSize": 26, "color": "#111"},
"encoding": {"x": {"datum": 1.13}, "y": {"datum": 1.53}, "text": {"value": "E"}}},
{"transform": [{"filter": "datum.L == 7 && datum.c == 'd' && datum.E == -20"}],
"mark": {"type": "text", "align": "center", "baseline": "middle", "font": "Liberation Sans", "fontSize": 14, "color": "#111"},
"encoding": {"x": {"datum": 1.74}, "y": {"datum": 0.78}, "text": {"value": "F"}}}
]
}
},
{
"data": {"name": "ti"},
"transform": [{"lookup": "L", "from": {"data": {"name": "tiLab"}, "key": "L", "fields": ["name"]}}],
"bounds": "flush",
"spacing": {"row": 0},
"facet": {"row": {"field": "L", "type": "ordinal", "title": "Density of states", "header": {"labels": false, "titleFont": "Liberation Sans", "titleFontSize": 23, "titleFontWeight": "normal", "titleColor": "#333", "titlePadding": -7}}},
"spec": {
"width": 515, "height": 43.9,
"layer": [
{"mark": {"type": "line", "interpolate": "monotone", "strokeWidth": 1.2, "clip": true},
"encoding": {
"x": {"field": "E", "type": "quantitative", "scale": {"domain": [-20, 4.7], "nice": false, "zero": false},
"axis": {"values": [-20,-17.5,-15,-12.5,-10,-7.5,-5,-2.5,0,2.5], "labelExpr": "datum.value % 5 == 0 ? '' + datum.value : ''", "labelFlush": false, "labelOverlap": false, "ticks": false, "domain": false, "grid": true, "gridColor": "#000", "gridOpacity": 1, "gridWidth": 1.8, "gridDash": {"condition": {"test": "datum.value % 5 == 0", "value": [0, 33.9, 10, 2000]}, "value": [0, 38.9, 5, 2000]}, "labelFont": "Liberation Sans", "labelFontWeight": "bold", "labelFontSize": 13, "labelColor": "#000", "labelPadding": 9, "title": "Energy, eV", "titleFont": "Liberation Sans", "titleFontSize": 20, "titleFontWeight": "normal", "titleColor": "#333", "titlePadding": 2}},
"y": {"field": "v", "type": "quantitative", "scale": {"domain": [0, 2.45], "nice": false},
"axis": {"values": [0, 1, 2], "labelExpr": "datum.value == 1 ? '' : datum.label", "ticks": false, "domain": false, "minExtent": 0, "grid": true, "gridColor": "#000", "gridOpacity": 1, "gridWidth": 1.5, "gridDash": {"condition": {"test": "datum.value == 1", "value": [6, 2000]}, "value": [12, 2000]}, "labelFont": "Liberation Sans", "labelFontWeight": "bold", "labelFontSize": 11, "labelColor": "#000", "labelPadding": 13, "title": null}},
"color": {"field": "c", "type": "nominal", "scale": {"domain": ["s", "p", "d"], "range": ["#222222", "#ee1c24", "#22229a"]},
"legend": {"orient": "none", "legendX": 458, "legendY": -1, "title": null, "symbolType": "stroke", "symbolSize": 800, "symbolStrokeWidth": 1.2, "labelFont": "Liberation Sans", "labelFontSize": 14, "labelColor": "#333", "labelOffset": 3, "clipHeight": 12, "rowPadding": 0, "padding": 0}}
}},
{"transform": [{"filter": "datum.c == 'd' && datum.E == -20"}],
"mark": {"type": "rule", "strokeDash": [2, 9], "strokeWidth": 2, "color": "#000"},
"encoding": {"x": {"datum": 0}}},
{"transform": [{"filter": "datum.c == 'd' && datum.E == -20"}],
"mark": {"type": "text", "align": "left", "baseline": "middle", "font": "Liberation Serif", "fontSize": 21, "color": "#333"},
"encoding": {"x": {"datum": -19.42}, "y": {"datum": 1.35}, "text": {"field": "name"}}},
{"transform": [{"filter": "datum.L == 1 && datum.c == 'd' && datum.E == -20"}],
"mark": {"type": "text", "align": "center", "baseline": "middle", "font": "Liberation Sans", "fontSize": 22, "color": "#111"},
"encoding": {"x": {"datum": -8.63}, "y": {"datum": 1.36}, "text": {"value": "Ti"}}},
{"transform": [{"filter": "datum.L == 7 && datum.c == 'd' && datum.E == -20"}],
"mark": {"type": "text", "align": "center", "baseline": "middle", "font": "Liberation Sans", "fontSize": 26, "color": "#111"},
"encoding": {"x": {"datum": 1.85}, "y": {"datum": 1.55}, "text": {"value": "E"}}},
{"transform": [{"filter": "datum.L == 7 && datum.c == 'd' && datum.E == -20"}],
"mark": {"type": "text", "align": "center", "baseline": "middle", "font": "Liberation Sans", "fontSize": 14, "color": "#111"},
"encoding": {"x": {"datum": 2.5}, "y": {"datum": 0.9}, "text": {"value": "F"}}}
]
}
}
]
}
